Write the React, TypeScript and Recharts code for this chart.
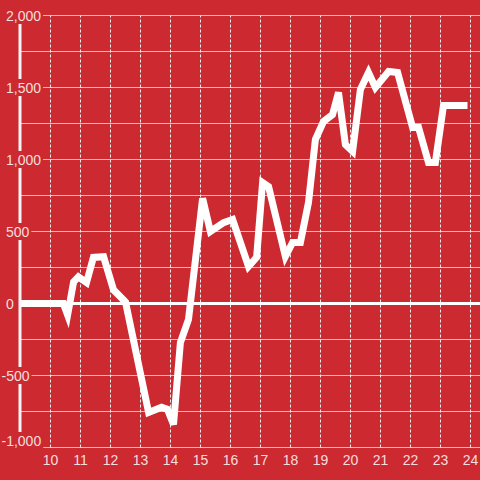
import React from 'react';
import {
  LineChart,
  Line,
  XAxis,
  YAxis,
  CartesianGrid,
  ReferenceLine,
} from 'recharts';

// hour of day and running value
const hours = [
  9, 10.43, 10.57, 10.77, 10.93, 11.2, 11.43, 11.77, 12.1, 12.5,
  13.27, 13.7, 13.9, 14.1, 14.33, 14.6, 15.07, 15.33, 15.77, 16.07,
  16.6, 16.87, 17.07, 17.27, 17.83, 18.07, 18.33, 18.6, 18.83, 19.1,
  19.4, 19.6, 19.83, 20.07, 20.33, 20.6, 20.83, 21.27, 21.57, 22.07,
  22.27, 22.6, 22.83, 23.1, 23.9,
];
const values = [
  0, 0, -80, 150, 185, 145, 320, 325, 95, 10,
  -757, -720, -735, -840, -271, -111, 730, 500, 562, 583,
  257, 320, 840, 812, 326, 424, 424, 701, 1139, 1264,
  1312, 1465, 1104, 1056, 1486, 1604, 1500, 1611, 1604, 1222,
  1222, 979, 979, 1375, 1375,
];

const xTicks = [10, 11, 12, 13, 14, 15, 16, 17, 18, 19, 20, 21, 22, 23, 24];
const yTicks = [-1000, -500, 0, 500, 1000, 1500, 2000];
const gridLevels = [-1000, -750, -500, -250, 0, 250, 500, 750, 1000, 1250, 1500, 1750, 2000];

const BG = '#cc2a30';
const TEXT = '#f6dede';
const FONT = '"Liberation Sans", Arial, sans-serif';
const FS = 14;

const data = hours.map((h, i) => ({ h, v: values[i] }));

const textWidth = (s: string) =>
  s.split('').reduce((w, c) => w + (c === ',' ? 0.278 : c === '-' ? 0.333 : 0.556) * FS, 0);

// y labels sit over the axis line with a patch of background behind them
const YTick = (props: any) => {
  const { y, payload } = props;
  const v = payload.value as number;
  const label = v.toLocaleString('en-US');
  const x0 = v < 0 ? 1.5 : 6;
  const w = textWidth(label);
  const cy = v === -1000 ? y - 7 : y;
  return (
    <g>
      <rect x={x0 - 2} y={cy - 8.5} width={w + 4} height={17} fill={BG} />
      <text x={x0} y={cy} dy="0.36em" textAnchor="start" fill={TEXT} fontSize={FS} fontFamily={FONT}>
        {label}
      </text>
    </g>
  );
};

export default function App() {
  return (
    <div style={{ position: 'fixed', left: 0, top: 0, width: 480, height: 480, background: BG }}>
      <LineChart width={480} height={480} data={data} margin={{ top: 15.5, right: 0, bottom: 0.5, left: 0 }}>
        <CartesianGrid vertical={false} horizontalValues={gridLevels} stroke="#c9c9c9" strokeWidth={1} />
        {xTicks.map((t) => (
          <ReferenceLine key={t} x={t} stroke="#eeeeee" strokeDasharray="3 2" strokeWidth={1} />
        ))}
        <XAxis
          dataKey="h"
          type="number"
          domain={[8.983, 24.317]}
          ticks={xTicks}
          height={32}
          axisLine={false}
          tickLine={false}
          tick={{ fill: TEXT, fontSize: FS, fontFamily: FONT }}
          allowDataOverflow
        />
        <YAxis
          type="number"
          domain={[-1000, 2000]}
          ticks={yTicks}
          width={20}
          axisLine={{ stroke: '#f4f4f4', strokeWidth: 3 }}
          tickLine={false}
          tick={<YTick />}
        />
        <ReferenceLine y={0} stroke="#ffffff" strokeWidth={3} />
        <Line
          type="linear"
          dataKey="v"
          stroke="#ffffff"
          strokeWidth={7}
          dot={false}
          isAnimationActive={false}
        />
      </LineChart>
    </div>
  );
}
